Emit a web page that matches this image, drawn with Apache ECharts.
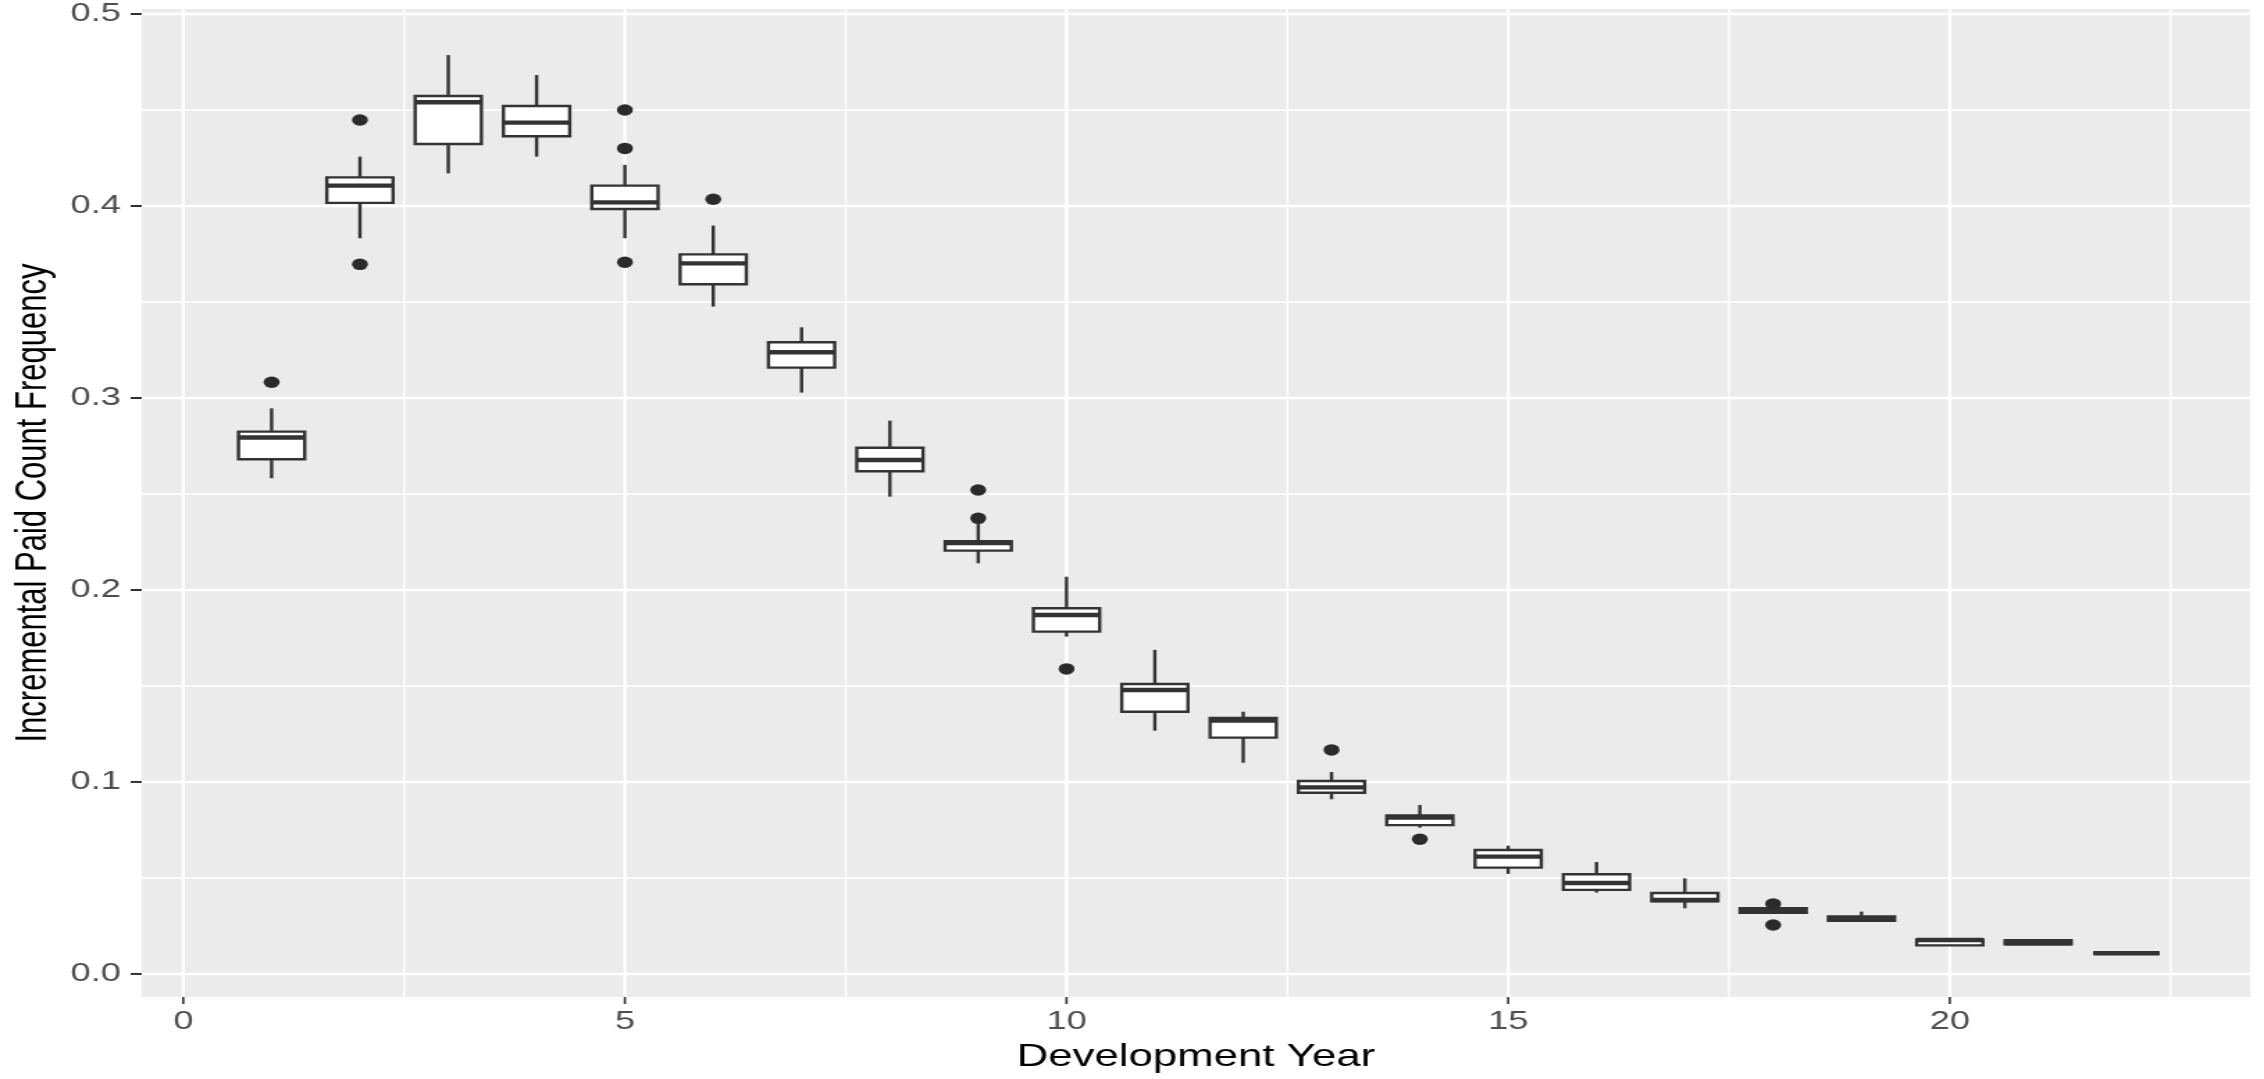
<!DOCTYPE html>
<html>
<head>
<meta charset="utf-8">
<title>Incremental Paid Count Frequency</title>
<script src="https://cdn.jsdelivr.net/npm/echarts@6/dist/echarts.min.js"></script>
<style>
  html, body { margin: 0; padding: 0; background: #fff; overflow: hidden; }
  /* the reference is a ggplot stretched sideways, so draw narrow and stretch */
  #main { width: 1629px; height: 1079px; transform: scaleX(1.3898); transform-origin: 0 0; }
</style>
</head>
<body>
<div id="main"></div>
<script>
// development years and box statistics
const years     = [1, 2, 3, 4, 5, 6, 7, 8, 9, 10, 11, 12, 13, 14, 15, 16, 17, 18, 19, 20, 21, 22];
const whiskerLo = [0.2582, 0.3832, 0.4170, 0.4257, 0.3832, 0.3476, 0.3028, 0.2486, 0.2139, 0.1757, 0.1267, 0.1100, 0.0910, 0.0762, 0.0521, 0.0424, 0.0342, 0.0315, 0.0275, 0.0149, 0.0155, 0.0108];
const q1        = [0.2681, 0.4016, 0.4323, 0.4363, 0.3984, 0.3592, 0.3158, 0.2618, 0.2205, 0.1783, 0.1366, 0.1231, 0.0944, 0.0775, 0.0554, 0.0438, 0.0378, 0.0319, 0.0277, 0.0149, 0.0155, 0.0108];
const median    = [0.2794, 0.4106, 0.4540, 0.4434, 0.4019, 0.3701, 0.3238, 0.2677, 0.2245, 0.1870, 0.1479, 0.1320, 0.0972, 0.0815, 0.0611, 0.0474, 0.0385, 0.0330, 0.0285, 0.0177, 0.0160, 0.0108];
const q3        = [0.2825, 0.4149, 0.4573, 0.4521, 0.4106, 0.3748, 0.3290, 0.2741, 0.2254, 0.1905, 0.1510, 0.1333, 0.1005, 0.0825, 0.0646, 0.0519, 0.0422, 0.0342, 0.0299, 0.0180, 0.0176, 0.0108];
const whiskerHi = [0.2946, 0.4257, 0.4786, 0.4682, 0.4214, 0.3898, 0.3368, 0.2882, 0.2344, 0.2069, 0.1688, 0.1366, 0.1052, 0.0880, 0.0668, 0.0583, 0.0498, 0.0346, 0.0325, 0.0180, 0.0176, 0.0108];

const outlierYear  = [1, 2, 2, 5, 5, 5, 6, 9, 9, 10, 13, 14, 18, 18];
const outlierValue = [0.3082, 0.4448, 0.3696, 0.4500, 0.4300, 0.3707, 0.4035, 0.2521, 0.2373, 0.1589, 0.1167, 0.0702, 0.0365, 0.0255];

const xTicks = [0, 5, 10, 15, 20];
const xMinor = [2.5, 7.5, 12.5, 17.5, 22.5];
const yTicks = [0, 0.1, 0.2, 0.3, 0.4, 0.5];
const yMinor = [0.05, 0.15, 0.25, 0.35, 0.45];

const BOX_W = 0.75;
const INK = '#333333';

let myChart = echarts.init(document.getElementById('main'));

let boxData = years.map((y, i) => [y, whiskerLo[i], q1[i], median[i], q3[i], whiskerHi[i]]);
let outlierData = outlierYear.map((y, i) => [y, outlierValue[i]]);

// white panel grid lines, drawn through the axes
function vLine(width) {
    return function (params, api) {
        let cs = params.coordSys;
        let x = api.coord([api.value(0), 0])[0];
        return { type: 'line', shape: { x1: x, y1: cs.y, x2: x, y2: cs.y + cs.height },
                 style: { stroke: '#ffffff', lineWidth: width } };
    };
}
function hLine(width) {
    return function (params, api) {
        let cs = params.coordSys;
        let y = api.coord([0, api.value(1)])[1];
        return { type: 'line', shape: { x1: cs.x, y1: y, x2: cs.x + cs.width, y2: y },
                 style: { stroke: '#ffffff', lineWidth: width } };
    };
}
// small outside ticks like ggplot's
function xTick(params, api) {
    let cs = params.coordSys;
    let x = api.coord([api.value(0), 0])[0];
    let y0 = cs.y + cs.height;
    return { type: 'line', shape: { x1: x, y1: y0, x2: x, y2: y0 + 7 },
             style: { stroke: INK, lineWidth: 1.6 } };
}
function yTick(params, api) {
    let cs = params.coordSys;
    let y = api.coord([0, api.value(1)])[1];
    return { type: 'line', shape: { x1: cs.x - 8, y1: y, x2: cs.x, y2: y },
             style: { stroke: INK, lineWidth: 2 } };
}

function renderBox(params, api) {
    let x = api.value(0);
    let pLo = api.coord([x, api.value(1)]);
    let pQ1 = api.coord([x, api.value(2)]);
    let pMed = api.coord([x, api.value(3)]);
    let pQ3 = api.coord([x, api.value(4)]);
    let pHi = api.coord([x, api.value(5)]);
    let left = api.coord([x - BOX_W / 2, 0])[0];
    let right = api.coord([x + BOX_W / 2, 0])[0];
    let lineStyle = { stroke: INK, lineWidth: 2.4 };
    return {
        type: 'group',
        children: [
            { type: 'line', shape: { x1: pHi[0], y1: pHi[1], x2: pQ3[0], y2: pQ3[1] }, style: lineStyle },
            { type: 'line', shape: { x1: pQ1[0], y1: pQ1[1], x2: pLo[0], y2: pLo[1] }, style: lineStyle },
            { type: 'rect', shape: { x: left, y: pQ3[1], width: right - left, height: pQ1[1] - pQ3[1] },
              style: { fill: '#ffffff', stroke: INK, lineWidth: 2.4 } },
            { type: 'line', shape: { x1: left, y1: pMed[1], x2: right, y2: pMed[1] },
              style: { stroke: INK, lineWidth: 4.4 } }
        ]
    };
}

let option = {
    animation: false,
    backgroundColor: '#ffffff',
    grid: {
        left: 102, right: 10, top: 9, bottom: 82,
        show: true, backgroundColor: '#EBEBEB', borderWidth: 0
    },
    xAxis: {
        type: 'value',
        min: -0.47,
        max: 23.40,
        name: 'Development Year',
        nameLocation: 'middle',
        nameGap: 44,
        nameTextStyle: { fontFamily: 'Liberation Sans', fontSize: 31.5, color: '#000000' },
        axisLine: { show: false },
        axisTick: { show: false },
        axisLabel: { customValues: xTicks, margin: 12, fontFamily: 'Liberation Sans', fontSize: 26, color: '#4D4D4D' },
        splitLine: { show: false }
    },
    yAxis: {
        type: 'value',
        min: -0.012,
        max: 0.5026,
        name: 'Incremental Paid Count Frequency',
        nameLocation: 'middle',
        nameRotate: 90,
        nameGap: 60,
        nameTextStyle: { fontFamily: 'Liberation Sans', fontSize: 31, color: '#000000' },
        axisLine: { show: false },
        axisTick: { show: false },
        axisLabel: { customValues: yTicks, margin: 15, fontFamily: 'Liberation Sans', fontSize: 26, color: '#4D4D4D',
                     formatter: v => v.toFixed(1) },
        splitLine: { show: false }
    },
    series: [
        { type: 'custom', silent: true, z: 1, data: xMinor.map(v => [v, 0]), renderItem: vLine(1.4) },
        { type: 'custom', silent: true, z: 1, data: xTicks.map(v => [v, 0]), renderItem: vLine(2.4) },
        { type: 'custom', silent: true, z: 1, data: yMinor.map(v => [0, v]), renderItem: hLine(1.6) },
        { type: 'custom', silent: true, z: 1, data: yTicks.map(v => [0, v]), renderItem: hLine(2.4) },
        { type: 'custom', silent: true, clip: false, z: 1, data: xTicks.map(v => [v, 0]), renderItem: xTick },
        { type: 'custom', silent: true, clip: false, z: 1, data: yTicks.map(v => [0, v]), renderItem: yTick },
        {
            name: 'box',
            type: 'custom',
            z: 3,
            data: boxData,
            encode: { x: 0, y: [1, 2, 3, 4, 5] },
            renderItem: renderBox
        },
        {
            name: 'outliers',
            type: 'scatter',
            z: 4,
            symbol: 'circle',
            symbolSize: 11.5,
            itemStyle: { color: '#2b2b2b', opacity: 1 },
            data: outlierData
        }
    ]
};

myChart.setOption(option, true);
window.addEventListener("resize", myChart.resize);
</script>
</body>
</html>
